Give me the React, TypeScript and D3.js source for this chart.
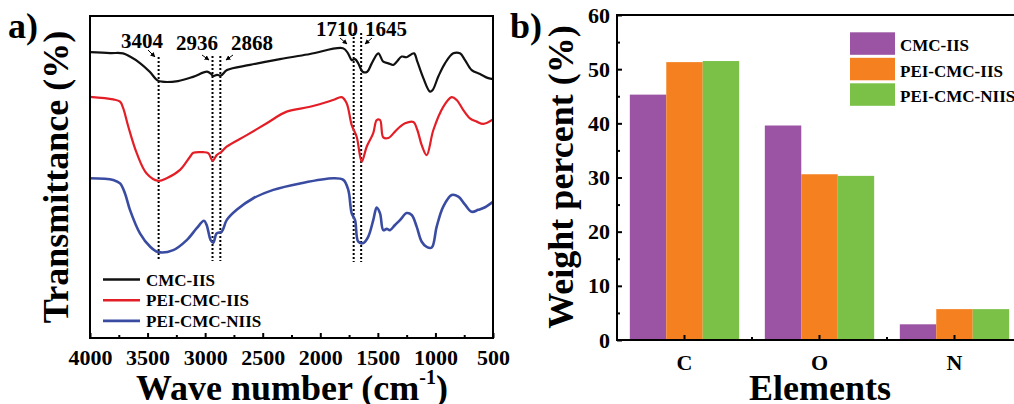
import React, { useRef, useEffect } from 'react';
import * as d3 from 'd3';

// ---- panel a: FTIR spectra (wave number, transmittance in arbitrary %) ----
const waveCmc = [4000, 3826, 3713, 3653, 3566, 3479, 3418, 3375, 3236, 3105, 2984, 2949, 2932, 2897, 2862, 2810, 2610, 2350, 2089, 1803, 1759, 1727, 1698, 1670, 1632, 1592, 1553, 1496, 1453, 1409, 1366, 1336, 1293, 1250, 1186, 1157, 1105, 1047, 1024, 975, 917, 845, 787, 743, 685, 613, 541, 500];
const transCmc = [88.8, 88.5, 88.4, 87.4, 85.4, 82.6, 80.1, 79.6, 79.8, 81.1, 82.7, 82.0, 81.4, 81.7, 81.5, 83.2, 84.8, 86.6, 88.2, 90.0, 88.4, 86.3, 86.6, 85.3, 82.7, 82.7, 85.3, 88.4, 85.8, 85.3, 84.8, 85.8, 87.4, 87.2, 88.4, 85.8, 80.7, 76.5, 77.0, 81.2, 85.3, 88.4, 88.4, 86.3, 83.2, 82.0, 80.7, 80.4];

const wavePei = [4000, 3798, 3739, 3711, 3667, 3594, 3508, 3407, 3334, 3218, 3131, 3103, 3016, 2973, 2934, 2900, 2856, 2813, 2639, 2465, 2292, 2089, 1890, 1814, 1771, 1727, 1684, 1640, 1597, 1540, 1510, 1481, 1453, 1409, 1351, 1308, 1264, 1192, 1157, 1119, 1076, 1018, 932, 859, 815, 758, 700, 642, 584, 500];
const transPei = [74.9, 74.1, 73.4, 71.3, 65.6, 57.4, 51.1, 48.8, 49.6, 52.2, 56.3, 57.5, 57.7, 57.4, 55.1, 56.8, 57.9, 59.4, 63.0, 66.7, 70.3, 71.8, 73.9, 74.8, 72.9, 66.1, 62.5, 54.8, 59.4, 63.6, 67.7, 67.7, 62.3, 62.1, 64.1, 65.6, 66.7, 67.1, 64.6, 59.9, 56.8, 64.6, 71.8, 74.8, 73.9, 70.8, 68.2, 67.2, 66.5, 67.9];

const wavePeiN = [4000, 3798, 3739, 3696, 3653, 3566, 3479, 3409, 3277, 3160, 3073, 3010, 2987, 2952, 2929, 2900, 2856, 2813, 2726, 2582, 2408, 2176, 1887, 1800, 1757, 1727, 1698, 1670, 1626, 1583, 1540, 1510, 1481, 1453, 1423, 1395, 1351, 1308, 1250, 1206, 1163, 1119, 1076, 1032, 989, 932, 859, 801, 743, 685, 628, 569, 500];
const transPeiN = [49.6, 49.1, 48.0, 44.9, 39.8, 32.5, 28.4, 26.7, 27.3, 30.4, 34.1, 36.4, 35.1, 30.4, 29.6, 32.5, 33.0, 36.6, 39.8, 43.4, 46.0, 48.0, 49.6, 49.1, 46.0, 38.7, 36.6, 29.9, 29.5, 31.5, 36.6, 40.5, 38.7, 33.5, 33.9, 33.5, 35.1, 36.6, 38.8, 38.2, 34.6, 29.9, 28.3, 28.1, 34.6, 40.8, 44.4, 43.9, 41.4, 39.2, 39.8, 40.6, 42.3];

const waveTicks = [4000, 3500, 3000, 2500, 2000, 1500, 1000, 500];
const waveMinor = [3750, 3250, 2750, 2250, 1750, 1250, 750];
const peakWaves = [3404, 2936, 2868, 1710, 1645];

// ---- panel b: elemental weight percent ----
const elements = ['C', 'O', 'N'];
const sampleNames = ['CMC-IIS', 'PEI-CMC-IIS', 'PEI-CMC-NIIS'];
const weightCmc = [45.3, 39.6, 2.9];
const weightPei = [51.3, 30.6, 5.7];
const weightPeiN = [51.5, 30.3, 5.7];
const weightTicks = [0, 10, 20, 30, 40, 50, 60];
const weightMinor = [5, 15, 25, 35, 45, 55];

const lineColors = ['#111111', '#e41e26', '#3a4ca2'];
const barColors = ['#9b54a3', '#f58020', '#7bc047'];
const font = '"Liberation Serif", "Times New Roman", serif';

export default function App() {
  const svgRef = useRef<SVGSVGElement>(null);

  useEffect(() => {
    const svg = d3.select(svgRef.current);
    svg.selectAll('*').remove();
    svg.append('rect').attr('width', 1014).attr('height', 404).attr('fill', '#fff');

    const txt = (g: any, x: number, y: number, s: string, size: number, anchor = 'start') =>
      g.append('text').attr('x', x).attr('y', y).attr('font-family', font).attr('font-weight', 'bold')
        .attr('font-size', size).attr('text-anchor', anchor).attr('fill', '#000').text(s);

    // ================= panel a =================
    const A = { left: 90, right: 493, top: 16, bottom: 338 };
    const x = d3.scaleLinear().domain([4000, 500]).range([A.left, A.right]);
    const y = d3.scaleLinear().domain([0, 100]).range([A.bottom, A.top]);

    const ga = svg.append('g');

    // dotted peak markers
    const lineTop = [57, 56, 56, 33, 33];
    const lineBot = [261, 261, 261, 262, 262];
    peakWaves.forEach((w, i) => {
      ga.append('line').attr('x1', x(w)).attr('x2', x(w)).attr('y1', lineTop[i]).attr('y2', lineBot[i])
        .attr('stroke', '#000').attr('stroke-width', 2).attr('stroke-dasharray', '2,2');
    });

    const series = [
      { w: waveCmc, t: transCmc },
      { w: wavePei, t: transPei },
      { w: wavePeiN, t: transPeiN },
    ];
    const line = d3.line<[number, number]>()
      .x(d => x(d[0]))
      .y(d => y(d[1]))
      .curve(d3.curveCatmullRom.alpha(0.5));
    series.forEach((s, i) => {
      const pts = s.w.map((w, j) => [w, s.t[j]] as [number, number]);
      ga.append('path').datum(pts).attr('d', line).attr('fill', 'none')
        .attr('stroke', lineColors[i]).attr('stroke-width', i === 2 ? 2.6 : 2.2)
        .attr('stroke-linejoin', 'round');
    });

    // peak labels and arrows
    svg.append('defs').append('marker').attr('id', 'ah').attr('viewBox', '0 0 10 10')
      .attr('refX', 9).attr('refY', 5).attr('markerWidth', 5).attr('markerHeight', 5)
      .attr('orient', 'auto').append('path').attr('d', 'M0,0L10,5L0,10z').attr('fill', '#000');
    const labelX = [142, 197, 252, 337, 386];
    const labelY = [48, 50, 50, 36, 36];
    const arrows = [
      [148, 50, 155, 57], [202, 55, 209, 60], [233, 55, 226, 60], [340, 38, 347, 44], [372, 38, 365, 44],
    ];
    peakWaves.forEach((w, i) => {
      txt(ga, labelX[i], labelY[i], String(w), 21, 'middle');
      const [x1, y1, x2, y2] = arrows[i];
      ga.append('line').attr('x1', x1).attr('y1', y1).attr('x2', x2).attr('y2', y2)
        .attr('stroke', '#000').attr('stroke-width', 1).attr('marker-end', 'url(#ah)');
    });

    // axes
    const xAxis = ga.append('g').attr('transform', `translate(0,${A.bottom})`)
      .call(d3.axisBottom(x).tickValues(waveTicks).tickSizeInner(-5).tickSizeOuter(0).tickPadding(11.5).tickFormat(d3.format('d')));
    xAxis.select('.domain').remove();
    xAxis.selectAll('line').attr('stroke-width', 2);
    xAxis.selectAll('text').attr('font-family', font).attr('font-weight', 'bold').attr('font-size', 22).attr('fill', '#000');
    const xMinor = ga.append('g').attr('transform', `translate(0,${A.bottom})`)
      .call(d3.axisBottom(x).tickValues(waveMinor).tickSizeInner(-3).tickSizeOuter(0).tickFormat(() => ''));
    xMinor.select('.domain').remove();
    xMinor.selectAll('line').attr('stroke-width', 2);

    ga.append('rect').attr('x', A.left).attr('y', A.top).attr('width', A.right - A.left).attr('height', A.bottom - A.top)
      .attr('fill', 'none').attr('stroke', '#000').attr('stroke-width', 2);

    // legend a
    sampleNames.forEach((n, i) => {
      const ly = 279.5 + i * 20.7;
      ga.append('line').attr('x1', 103).attr('x2', 140).attr('y1', ly).attr('y2', ly)
        .attr('stroke', lineColors[i]).attr('stroke-width', 2.6);
      txt(ga, 146, ly + 6, n, 17);
    });

    txt(ga, 8, 38, 'a)', 36);
    txt(ga, 0, 0, 'Transmittance (%)', 36, 'middle').attr('transform', 'translate(68,177) rotate(-90)');
    const xt = txt(ga, 292, 400, 'Wave number (cm', 36, 'middle');
    xt.append('tspan').attr('font-size', 20).attr('dy', -16).text('-1');
    xt.append('tspan').attr('dy', 16).text(')');

    // ================= panel b =================
    const B = { left: 617, right: 1022, top: 15, bottom: 340 };
    const gb = svg.append('g');
    const xb = d3.scaleBand<string>().domain(elements).range([B.left, B.right]).paddingInner(0.19).paddingOuter(0.095);
    const xs = d3.scaleBand<string>().domain(sampleNames).range([0, xb.bandwidth()]);
    const yb = d3.scaleLinear().domain([0, 60]).range([B.bottom, B.top]);
    const weights = [weightCmc, weightPei, weightPeiN];

    elements.forEach((el, ei) => {
      sampleNames.forEach((s, si) => {
        const v = weights[si][ei];
        gb.append('rect').attr('x', xb(el)! + xs(s)!).attr('y', yb(v))
          .attr('width', xs.bandwidth()).attr('height', yb(0) - yb(v)).attr('fill', barColors[si]);
      });
    });

    const yAxis = gb.append('g').attr('transform', `translate(${B.left},0)`)
      .call(d3.axisLeft(yb).tickValues(weightTicks).tickSizeInner(-5).tickSizeOuter(0).tickPadding(7));
    yAxis.select('.domain').remove();
    yAxis.selectAll('line').attr('stroke-width', 2);
    yAxis.selectAll('text').attr('font-family', font).attr('font-weight', 'bold').attr('font-size', 22).attr('fill', '#000');
    const yMinor = gb.append('g').attr('transform', `translate(${B.left},0)`)
      .call(d3.axisLeft(yb).tickValues(weightMinor).tickSizeInner(-3).tickSizeOuter(0).tickFormat(() => ''));
    yMinor.select('.domain').remove();
    yMinor.selectAll('line').attr('stroke-width', 2);

    const xbAxis = gb.append('g').attr('transform', `translate(0,${B.bottom})`)
      .call(d3.axisBottom(xb).tickSizeInner(-5).tickSizeOuter(0).tickPadding(14.5));
    xbAxis.select('.domain').remove();
    xbAxis.selectAll('line').attr('stroke-width', 2);
    xbAxis.selectAll('text').attr('font-family', font).attr('font-weight', 'bold').attr('font-size', 22).attr('fill', '#000');
    // minor ticks halfway between categories
    elements.slice(1).forEach(el => {
      const mx = xb(el)! - (xb.step() - xb.bandwidth()) / 2;
      gb.append('line').attr('x1', mx).attr('x2', mx).attr('y1', B.bottom).attr('y2', B.bottom - 3)
        .attr('stroke', '#000').attr('stroke-width', 2);
    });

    gb.append('rect').attr('x', B.left).attr('y', B.top).attr('width', B.right - B.left).attr('height', B.bottom - B.top)
      .attr('fill', 'none').attr('stroke', '#000').attr('stroke-width', 2);

    // legend b
    sampleNames.forEach((n, i) => {
      const ly = 32.3 + i * 25.5;
      gb.append('rect').attr('x', 850).attr('y', ly).attr('width', 45).attr('height', 22.5).attr('fill', barColors[i]);
      txt(gb, 900, ly + 19, n, 17);
    });

    txt(gb, 510, 38, 'b)', 36);
    txt(gb, 0, 0, 'Weight percent (%)', 36, 'middle').attr('transform', 'translate(573,177) rotate(-90)');
    txt(gb, 820, 400, 'Elements', 36, 'middle');
  }, []);

  return (
    <svg ref={svgRef} width={1014} height={404}
      style={{ position: 'absolute', left: 0, top: 0, display: 'block' }} />
  );
}
